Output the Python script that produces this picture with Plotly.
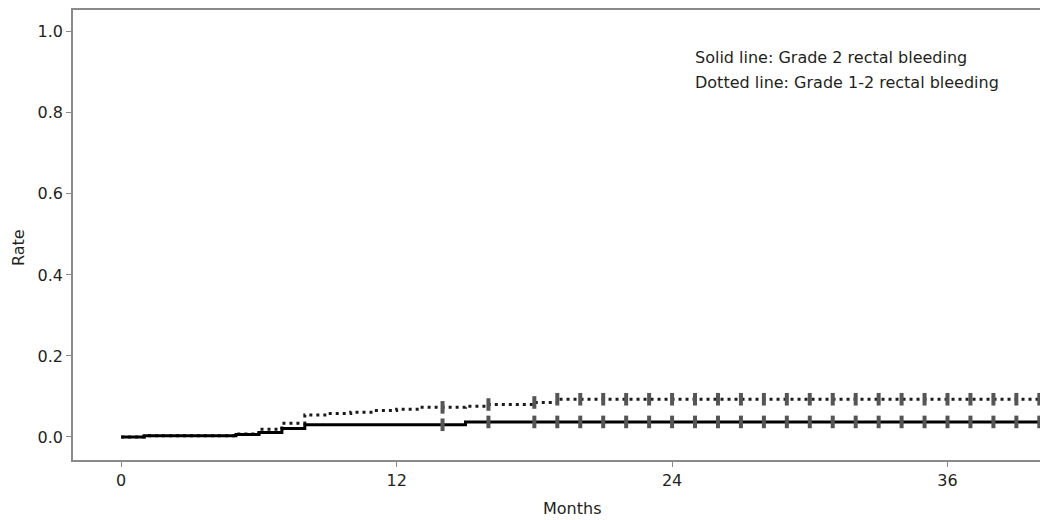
import plotly.graph_objects as go
import numpy as np

# Solid line: Grade 2 rectal bleeding (step function)
solid_months = [0, 1, 5, 6, 7, 8, 15, 40]
solid_rate = [0.0, 0.003, 0.006, 0.011, 0.021, 0.030, 0.037, 0.037]

# Dotted line: Grade 1-2 rectal bleeding (step function)
dotted_months = [0, 1, 5, 6, 7, 8, 9, 10, 11, 12, 13, 15, 16, 18, 19, 40]
dotted_rate = [0.0, 0.003, 0.007, 0.019, 0.034, 0.054, 0.058, 0.061, 0.065,
               0.068, 0.073, 0.076, 0.080, 0.085, 0.093, 0.093]

# Censoring times
censor_months = [14, 16, 18, 19, 20, 21, 22, 23, 24, 25, 26, 27, 28, 29, 30,
                 31, 32, 33, 34, 35, 36, 37, 38, 39, 40]

x_ticks = [0, 12, 24, 36]
y_ticks = [0.0, 0.2, 0.4, 0.6, 0.8, 1.0]
y_labels = ["0.0", "0.2", "0.4", "0.6", "0.8", "1.0"]


def step_at(times, vals, t):
    idx = np.searchsorted(times, t, side="right") - 1
    return vals[idx]


FONT = "DejaVu Sans"
TXT = "#231f20"
fig = go.Figure()

fig.add_trace(go.Scatter(x=dotted_months, y=dotted_rate, mode="lines",
                         line=dict(shape="hv", color="#1a1a1a", width=3, dash="3px,4px"),
                         showlegend=False, hoverinfo="skip"))
fig.add_trace(go.Scatter(x=solid_months, y=solid_rate, mode="lines",
                         line=dict(shape="hv", color="#000000", width=3),
                         showlegend=False, hoverinfo="skip"))

for times, vals in [(dotted_months, dotted_rate), (solid_months, solid_rate)]:
    fig.add_trace(go.Scatter(
        x=censor_months,
        y=[step_at(times, vals, t) for t in censor_months],
        mode="markers",
        marker=dict(symbol="line-ns", size=9, line=dict(width=4, color="#555555")),
        showlegend=False, hoverinfo="skip", cliponaxis=False))

axis_col = "#8a8a8a"
fig.update_xaxes(range=[-2.1, 40.03], tickvals=x_ticks, ticks="outside", ticklen=5,
                 tickcolor=axis_col, tickwidth=1, showline=True, linecolor=axis_col,
                 linewidth=1.5, mirror=True, showgrid=False, zeroline=False,
                 tickfont=dict(family=FONT, size=16, color=TXT))
fig.update_yaxes(range=[-0.057, 1.054], tickvals=y_ticks, ticktext=y_labels,
                 ticks="outside", ticklen=5, tickcolor=axis_col, tickwidth=1,
                 showline=True, linecolor=axis_col, linewidth=1.5, showgrid=False,
                 zeroline=False, tickfont=dict(family=FONT, size=16, color=TXT))

fig.add_annotation(text="Solid line: Grade 2 rectal bleeding", xref="paper", yref="paper",
                   x=(693 - 73) / 967, y=(460 - 57) / 450, xanchor="left", yanchor="middle",
                   showarrow=False, font=dict(family=FONT, size=16, color=TXT))
fig.add_annotation(text="Dotted line: Grade 1-2 rectal bleeding", xref="paper", yref="paper",
                   x=(693 - 73) / 967, y=(460 - 82) / 450, xanchor="left", yanchor="middle",
                   showarrow=False, font=dict(family=FONT, size=16, color=TXT))
fig.add_annotation(text="Months", xref="x", yref="paper", x=19.66, y=-(509 - 460) / 450,
                   xanchor="center", yanchor="middle", showarrow=False,
                   font=dict(family=FONT, size=16, color=TXT))
fig.add_annotation(text="Rate", xref="paper", yref="paper", x=-(73 - 18) / 967,
                   y=(460 - 248) / 450, xanchor="center", yanchor="middle", textangle=-90,
                   showarrow=False, font=dict(family=FONT, size=16, color=TXT))

fig.update_layout(width=1040, height=520, margin=dict(l=73, r=0, t=10, b=60),
                  plot_bgcolor="white", paper_bgcolor="white")

fig.write_html("out.html", config={"displayModeBar": False},
               post_script="document.body.style.margin='0';")
